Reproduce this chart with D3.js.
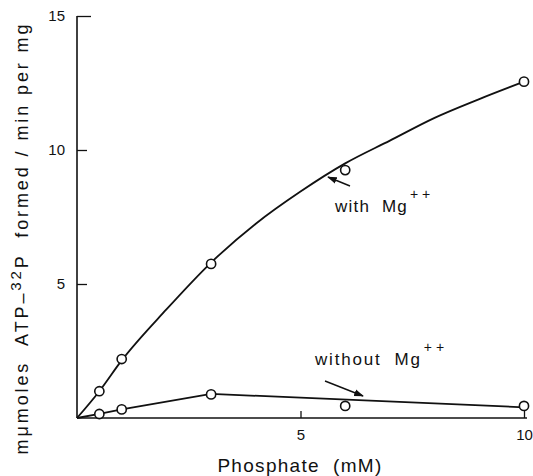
<!DOCTYPE html>
<html><head><meta charset="utf-8">
<script src="https://cdn.jsdelivr.net/npm/d3@7"></script>
<style>
body{margin:0;background:#fff;}
text{font-family:"Liberation Sans",Arial,sans-serif;fill:#111;white-space:pre;}
</style></head>
<body><svg id="c" width="533" height="476"></svg>
<script>
// Data
const phosphate = [0.5, 1, 3, 6, 10];            // mM
const withMg = [1.0, 2.2, 5.75, 9.25, 12.55];
const withoutMg = [0.15, 0.32, 0.88, 0.45, 0.45];
// drawn (hand-fitted) curves
const withMgCurveX = [0, 0.5, 1, 2, 3, 4, 5, 6, 7, 8, 9, 10];
const withMgCurveY = [0, 1.0, 2.15, 4.05, 5.8, 7.25, 8.45, 9.5, 10.35, 11.2, 11.9, 12.55];
const withoutMgCurveX = [0, 0.5, 1, 3, 10];
const withoutMgCurveY = [0, 0.15, 0.32, 0.9, 0.4];
const xTicks = [5, 10];
const yTicks = [5, 10, 15];

const svg = d3.select("#c");
const x = d3.scaleLinear().domain([0, 10]).range([77, 524]);
const y = d3.scaleLinear().domain([0, 15]).range([418, 16]);

// axes
const yAxis = d3.axisLeft(y).tickValues(yTicks).tickSize(-10).tickPadding(12).tickFormat(d3.format("d"));
const gy = svg.append("g").attr("transform", `translate(${x(0)},0)`).call(yAxis);
gy.select(".domain").attr("stroke", "#111").attr("stroke-width", 1.6).attr("d", `M0,${y(15)}V${y(0)}`);
gy.selectAll(".tick line").attr("stroke", "#111").attr("stroke-width", 1.3);
gy.selectAll(".tick text").attr("font-size", 15).attr("font-family", "Liberation Sans, Arial, sans-serif").attr("fill", "#111");
gy.selectAll(".tick").filter(d => d === 15).select("line").attr("x2", 14);

const xAxis = d3.axisBottom(x).tickValues(xTicks).tickSize(-7).tickPadding(11).tickFormat(d3.format("d"));
const gx = svg.append("g").attr("transform", `translate(0,${y(0)})`).call(xAxis);
gx.select(".domain").attr("stroke", "#111").attr("stroke-width", 1.6).attr("d", `M${x(0)},0H${x(10) + 3}`);
gx.selectAll(".tick line").attr("stroke", "#111").attr("stroke-width", 1.3);
gx.selectAll(".tick text").attr("font-size", 15).attr("font-family", "Liberation Sans, Arial, sans-serif").attr("fill", "#111");

// curves
svg.append("path")
  .datum(withMgCurveX.map((v, i) => [v, withMgCurveY[i]]))
  .attr("d", d3.line().x(d => x(d[0])).y(d => y(d[1])).curve(d3.curveMonotoneX))
  .attr("fill", "none").attr("stroke", "#111").attr("stroke-width", 1.8);
svg.append("path")
  .datum(withoutMgCurveX.map((v, i) => [v, withoutMgCurveY[i]]))
  .attr("d", d3.line().x(d => x(d[0])).y(d => y(d[1])).curve(d3.curveLinear))
  .attr("fill", "none").attr("stroke", "#111").attr("stroke-width", 1.8);

// markers
function markers(vals) {
  svg.append("g").selectAll("circle").data(phosphate.map((v, i) => [v, vals[i]]))
    .join("circle")
    .attr("cx", d => x(d[0])).attr("cy", d => y(d[1])).attr("r", 4.6)
    .attr("fill", "#fff").attr("stroke", "#111").attr("stroke-width", 1.6);
}
markers(withMg);
markers(withoutMg);

// arrowheads
const defs = svg.append("defs");
defs.append("marker").attr("id", "ah").attr("viewBox", "0 0 10 10").attr("refX", 9).attr("refY", 5)
  .attr("markerWidth", 7).attr("markerHeight", 7).attr("orient", "auto")
  .append("path").attr("d", "M0,1.5L10,5L0,8.5Z").attr("fill", "#111");

// annotations
svg.append("line").attr("x1", 350).attr("y1", 186).attr("x2", 328).attr("y2", 177)
  .attr("stroke", "#111").attr("stroke-width", 1.4).attr("marker-end", "url(#ah)");
const t1 = svg.append("text").attr("x", 335).attr("y", 212).attr("font-size", 17).attr("letter-spacing", 1.2);
t1.append("tspan").text("with  Mg");
t1.append("tspan").attr("dx", 2).attr("dy", -13).attr("font-size", 14).attr("letter-spacing", 4).text("++");

svg.append("line").attr("x1", 325).attr("y1", 381).attr("x2", 363).attr("y2", 396)
  .attr("stroke", "#111").attr("stroke-width", 1.4).attr("marker-end", "url(#ah)");
const t2 = svg.append("text").attr("x", 315).attr("y", 365).attr("font-size", 17).attr("letter-spacing", 1.8);
t2.append("tspan").text("without  Mg");
t2.append("tspan").attr("dx", 2).attr("dy", -13).attr("font-size", 14).attr("letter-spacing", 4).text("++");

// axis titles
svg.append("text").attr("x", 300).attr("y", 472).attr("text-anchor", "middle")
  .attr("font-size", 19).attr("letter-spacing", 1.3).text("Phosphate  (mM)");

const yl = svg.append("text").attr("transform", "translate(28,238) rotate(-90)")
  .attr("text-anchor", "middle").attr("font-size", 18).attr("letter-spacing", 2.9)
  .attr("font-family", "DejaVu Sans, sans-serif");
yl.append("tspan").text("mμmoles  ATP–");
yl.append("tspan").attr("dy", -7).attr("font-size", 15).text("32");
yl.append("tspan").attr("dy", 7).text("P  formed / min per mg");
</script></body></html>
